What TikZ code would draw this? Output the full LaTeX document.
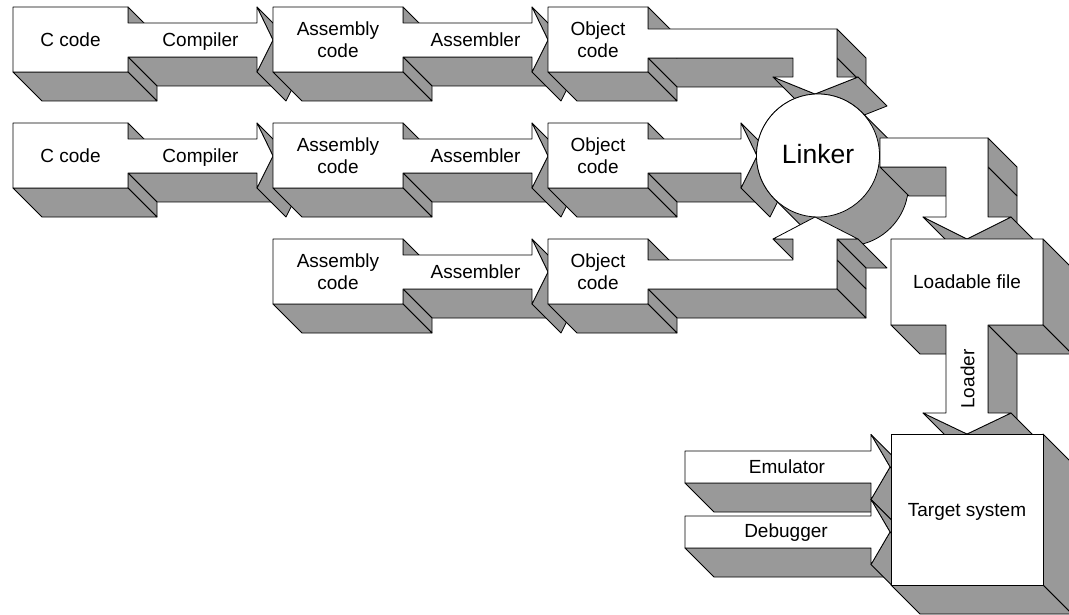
\documentclass[tikz,border=0pt]{standalone}
\usepackage{fontspec}
\setmainfont{Liberation Sans}
\definecolor{shade}{RGB}{153,153,153}

% extruded block: the side faces that can be seen, then the front face
\newcommand\slab[1]{%
  \foreach \x/\y [count=\i, remember=\x as \px, remember=\y as \py] in {#1}{%
    \ifnum\i>1\relax
      \pgfmathtruncatemacro\seen{((\y-\py)-(\x-\px))>0}%
      \ifnum\seen=1\relax
        \filldraw[sideface] (\px,\py) -- (\x,\y) -- ++(29,29) -- (\px+29,\py+29) -- cycle;
      \fi
    \fi}%
  \gdef\slabpath{}%
  \foreach \x/\y [count=\i] in {#1}{%
    \ifnum\i=1\relax \xdef\slabpath{(\x,\y)}\else \xdef\slabpath{\slabpath -- (\x,\y)}\fi}%
  \filldraw[frontface] \slabpath -- cycle;}

\begin{document}
\begin{tikzpicture}[x=1pt, y=-1pt, line width=0.8pt,
    sideface/.style={fill=shade, draw=black, line join=round},
    frontface/.style={fill=white, draw=black, line join=round},
    txt/.style={font=\fontsize{19}{22}\selectfont, align=center, inner sep=0pt},
    word/.style={txt, text height=13.6pt, text depth=0pt}]
        \clip (0,0) rectangle (1069,615);
        % first row
        \slab{257/72, 257/57, 128/57, 128/72, 13/72, 13/7, 128/7, 128/23, 257/23, 257/7, 273/40, 257/72}
        \slab{532/72, 532/57, 403/57, 403/72, 273/72, 273/7, 403/7, 403/23, 532/23, 532/7, 548/40, 532/72}
        \slab{773/77, 793/77, 793/58, 648/58, 648/72, 548/72, 548/7, 648/7, 648/29, 837/29, 837/58, 837/77, 858/77, 815/94, 773/77}
        \node[word] (ccode1) at (70.5,40) {C code};
        \node[word] (compiler1) at (200.5,40) {Compiler};
        \node[txt] (asm1) at (338,39.5) {Assembly\\code};
        \node[word] (assembler1) at (475.5,40) {Assembler};
        \node[txt] (obj1) at (598,39.5) {Object\\code};
        % second row
        \slab{257/188, 257/173, 128/173, 128/188, 13/188, 13/123, 128/123, 128/139, 257/139, 257/123, 273/156, 257/188}
        \slab{532/188, 532/173, 403/173, 403/188, 273/188, 273/123, 403/123, 403/139, 532/139, 532/123, 548/156, 532/188}
        \slab{741/188, 741/173, 648/173, 648/188, 548/188, 548/123, 648/123, 648/139, 741/139, 741/123, 757/156, 741/188}
        \node[word] (ccode2) at (70.5,156) {C code};
        \node[word] (compiler2) at (200.5,156) {Compiler};
        \node[txt] (asm2) at (338,155.5) {Assembly\\code};
        \node[word] (assembler2) at (475.5,156) {Assembler};
        \node[txt] (obj2) at (598,155.5) {Object\\code};
        % linker
        \filldraw[sideface] (818,155.5) ++(-45:61.5) -- ++(29,29)
            arc[start angle=-45, end angle=135, radius=61.5] -- ++(-29,-29)
            arc[start angle=135, end angle=315, radius=61.5] -- cycle;
        \filldraw[frontface] (818,155.5) circle[radius=61.5];
        \node[txt, font=\fontsize{26.5}{30}\selectfont, text height=19pt, text depth=0pt] (linker) at (818,154) {Linker};
        % third row
        \slab{532/304, 532/289, 403/289, 403/304, 273/304, 273/239, 403/239, 403/255, 532/255, 532/239, 548/272, 532/304}
        \slab{548/239, 648/239, 648/260, 793/260, 793/239, 773/239, 815/217, 858/239, 837/239, 837/260, 837/289, 648/289, 648/304, 548/304, 548/239}
        \node[txt] (asm3) at (338,271.5) {Assembly\\code};
        \node[word] (assembler3) at (475.5,272) {Assembler};
        \node[txt] (obj3) at (598,271.5) {Object\\code};
        % loadable file and target
        \slab{923/217, 946/217, 946/167, 880/167, 880/138, 988/138, 988/167, 988/217, 1011/217, 967/239, 923/217}
        \slab{923/413, 946/413, 946/325, 891/325, 891/239, 1043/239, 1043/325, 988/325, 988/413, 1011/413, 967/434, 923/413}
        \node[word] (loadable) at (967,282) {Loadable file};
        \node[word, rotate=90] (loader) at (967.5,379) {Loader};
        \slab{871/499.5, 871/483, 685/483, 685/451, 871/451, 871/434.5, 890/467, 871/499.5}
        \slab{871/564.5, 871/548, 685/548, 685/516, 871/516, 871/499.5, 890/532, 871/564.5}
        \slab{891/434, 1043/434, 1043/585, 891/585, 891/434}
        \node[word] (emulator) at (787,467) {Emulator};
        \node[word] (debugger) at (786,531) {Debugger};
        \node[word] (target) at (967,509.5) {Target system};
\end{tikzpicture}
\end{document}
